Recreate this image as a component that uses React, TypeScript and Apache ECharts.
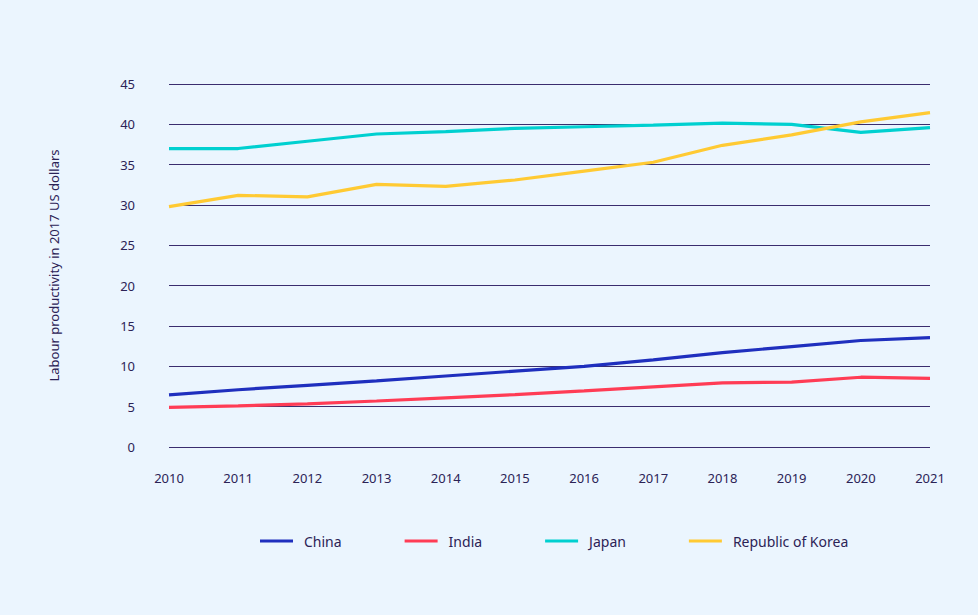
import React, { useEffect, useRef } from "react";
import * as echarts from "echarts";

const years = ["2010","2011","2012","2013","2014","2015","2016","2017","2018","2019","2020","2021"];
const china = [6.45, 7.1, 7.65, 8.2, 8.8, 9.4, 10.0, 10.8, 11.7, 12.45, 13.2, 13.55];
const india = [4.9, 5.1, 5.35, 5.7, 6.1, 6.5, 6.95, 7.45, 7.95, 8.05, 8.65, 8.5];
const japan = [37.0, 37.0, 37.9, 38.8, 39.1, 39.5, 39.7, 39.9, 40.15, 40.0, 39.0, 39.6];
const korea = [29.8, 31.2, 31.0, 32.55, 32.3, 33.1, 34.2, 35.3, 37.4, 38.7, 40.3, 41.45];

const FONT = "Noto Sans";
const TXT = "#2b2356";

export default function App() {
  const ref = useRef<HTMLDivElement>(null);
  useEffect(() => {
    const chart = echarts.init(ref.current!, null, { renderer: "svg" });
    const mk = (name: string, data: number[], color: string) => ({
      name, type: "line", data, symbol: "none",
      lineStyle: { width: 3.2, color }, itemStyle: { color },
    });
    chart.setOption({
      animation: false,
      backgroundColor: "#ebf5fe",
      textStyle: { fontFamily: FONT },
      grid: { left: 169, right: 48, top: 84, bottom: 168 },
      legend: {
        bottom: 62,
        left: 255,
        itemWidth: 33,
        itemHeight: 3,
        itemGap: 63,
        icon: "rect",
        textStyle: { color: TXT, fontSize: 14, fontFamily: FONT, padding: [0, 0, 0, 6] },
        data: ["China", "India", "Japan", "Republic of Korea"],
      },
      xAxis: {
        type: "category",
        data: years,
        boundaryGap: false,
        axisLine: { show: false },
        axisTick: { show: false },
        axisLabel: { color: TXT, fontSize: 13, margin: 24, fontFamily: FONT },
      },
      yAxis: {
        type: "value",
        min: 0, max: 45, interval: 5,
        name: "Labour productivity in 2017 US dollars",
        nameLocation: "middle",
        nameGap: 109,
        nameTextStyle: { color: TXT, fontSize: 13, fontFamily: FONT },
        axisLine: { show: false },
        axisTick: { show: false },
        axisLabel: { color: TXT, fontSize: 13, margin: 34, fontFamily: FONT },
        splitLine: { lineStyle: { color: "#3a2d6e", width: 1 } },
      },
      series: [
        mk("China", china, "#1f2fbe"),
        mk("India", india, "#ff3c55"),
        mk("Japan", japan, "#00d0d0"),
        mk("Republic of Korea", korea, "#ffca33"),
      ],
    });
    return () => chart.dispose();
  }, []);
  return <div ref={ref} style={{ width: 978, height: 615, position: "absolute", left: 0, top: 0 }} />;
}
